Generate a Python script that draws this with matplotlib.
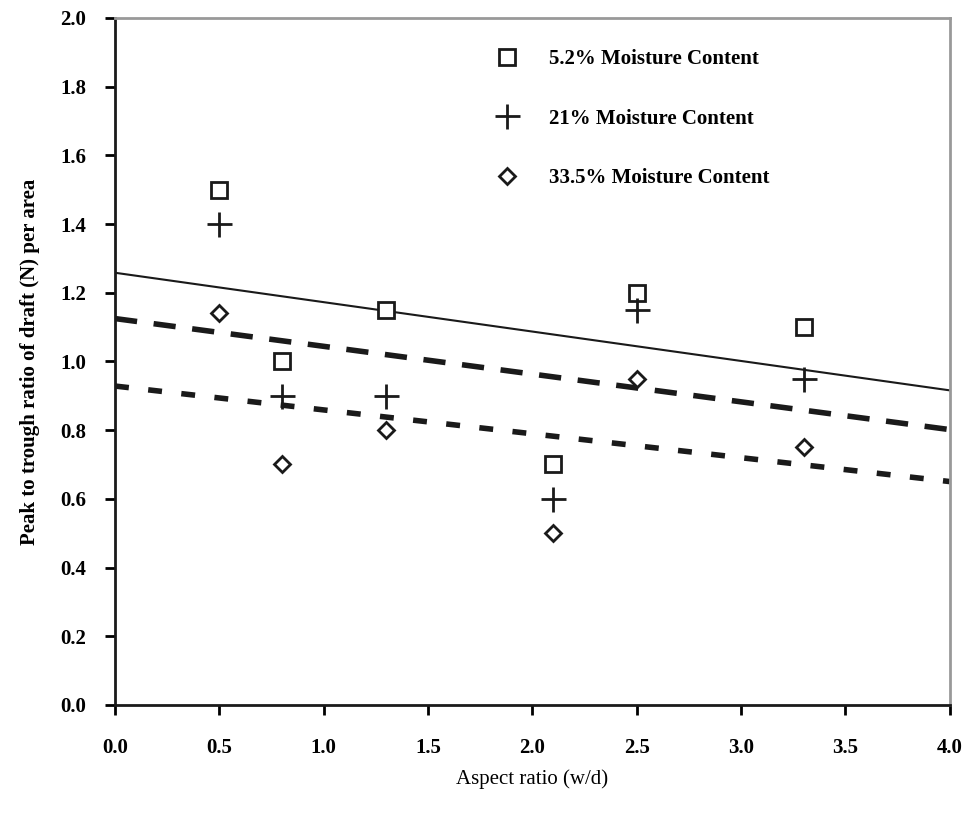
import numpy as np
import matplotlib.pyplot as plt

# aspect ratio (w/d) for the tested tines
aspect = [0.5, 0.8, 1.3, 2.1, 2.5, 3.3]

# peak to trough ratio per moisture content
mc_low = [1.5, 1.0, 1.15, 0.7, 1.2, 1.1]
mc_mid = [1.4, 0.9, 0.9, 0.6, 1.15, 0.95]
mc_high = [1.14, 0.7, 0.8, 0.5, 0.95, 0.75]

labels = ["5.2% Moisture Content", "21% Moisture Content", "33.5% Moisture Content"]

plt.rcParams["font.family"] = ["Liberation Serif", "DejaVu Serif"]

fig = plt.figure(figsize=(9.75, 8.14), dpi=100)
ax = fig.add_axes([0.118, 0.134, 0.856, 0.844])

x = np.asarray(aspect)
xs = np.array([0.0, 4.0])

# linear trend lines for each series
for y, ls in zip([mc_low, mc_mid, mc_high], ["solid", (0, (4, 3)), (0, (2.5, 3.5))]):
    c = np.polyfit(x, y, 1)
    lw = 1.5 if ls == "solid" else 4
    ax.plot(xs, np.polyval(c, xs), color="#1a1a1a", linestyle=ls, linewidth=lw, zorder=2)

ax.plot(aspect, mc_low, linestyle="None", marker="s", markersize=11, markerfacecolor="white",
        markeredgecolor="#1a1a1a", markeredgewidth=2, label=labels[0], zorder=3)
ax.plot(aspect, mc_mid, linestyle="None", marker="+", markersize=18, color="#1a1a1a",
        markeredgewidth=2, label=labels[1], zorder=3)
ax.plot(aspect, mc_high, linestyle="None", marker="D", markersize=8, markerfacecolor="white",
        markeredgecolor="#1a1a1a", markeredgewidth=2, label=labels[2], zorder=3)

ax.set_xlim(0, 4.0)
ax.set_ylim(0, 2.0)
ax.set_xticks(np.arange(0, 4.01, 0.5))
ax.set_yticks(np.arange(0, 2.01, 0.2))
ax.set_xticklabels([f"{v:.1f}" for v in np.arange(0, 4.01, 0.5)], fontweight="bold")
ax.set_yticklabels([f"{v:.1f}" for v in np.arange(0, 2.01, 0.2)], fontweight="bold")
ax.tick_params(axis="both", direction="out", length=7, width=2, labelsize=15)
ax.tick_params(axis="x", pad=17)
ax.tick_params(axis="y", pad=14)

for side in ["left", "bottom"]:
    ax.spines[side].set_linewidth(2)
    ax.spines[side].set_color("#1a1a1a")
for side in ["top", "right"]:
    ax.spines[side].set_linewidth(2)
    ax.spines[side].set_color("#999999")

ax.set_xlabel("Aspect ratio (w/d)", fontsize=15, labelpad=8)
ax.set_ylabel("Peak to trough ratio of draft (N) per area", fontsize=15, labelpad=14,
              fontweight="bold")

leg = ax.legend(loc="upper left", bbox_to_anchor=(0.42, 0.985), frameon=False, fontsize=15,
                labelspacing=1.9, handletextpad=1.0, borderaxespad=0.6)
for t in leg.get_texts():
    t.set_fontweight("bold")

fig.savefig("out.png", dpi=100)
